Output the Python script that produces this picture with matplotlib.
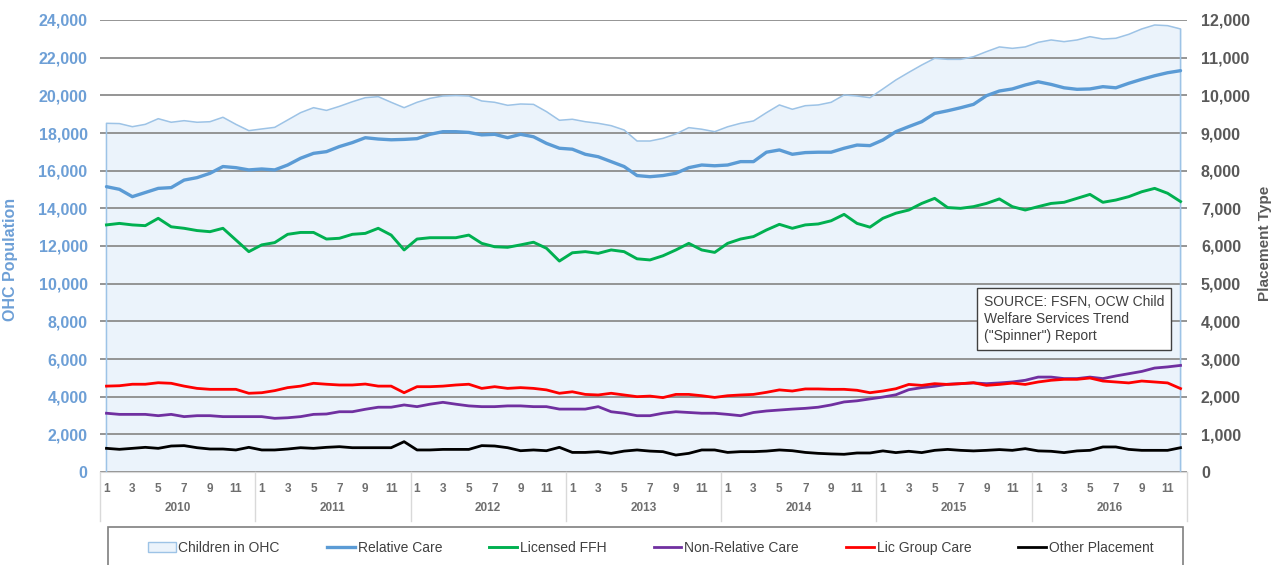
import numpy as np
import matplotlib
matplotlib.use('Agg')
import matplotlib.pyplot as plt
from matplotlib.patches import Rectangle, Patch
from matplotlib.lines import Line2D
from matplotlib.ticker import FuncFormatter

plt.rcParams['font.family'] = ['Liberation Sans', 'DejaVu Sans']

years = ['2010', '2011', '2012', '2013', '2014', '2015', '2016']
months = list(range(1, 13))

# Children in OHC (left axis)
ohc = [18515, 18500, 18335, 18460, 18760, 18570, 18655, 18570, 18600, 18835, 18460, 18125,
       18215, 18300, 18690, 19080, 19345, 19200, 19415, 19660, 19875, 19930, 19630, 19345,
       19630, 19840, 19965, 19990, 19965, 19700, 19630, 19470, 19540, 19520, 19135, 18675,
       18730, 18600, 18515, 18390, 18160, 17575, 17575, 17715, 17950, 18285, 18200, 18070,
       18330, 18515, 18640, 19080, 19490, 19260, 19450, 19490, 19630, 20020, 19965, 19875,
       20340, 20815, 21220, 21610, 21965, 21910, 21910, 22050, 22320, 22570, 22495, 22570,
       22815, 22940, 22850, 22940, 23115, 22990, 23030, 23240, 23525, 23735, 23700, 23525]

# placement types (right axis)
relative = [7575, 7505, 7310, 7420, 7530, 7550, 7750, 7815, 7930, 8110, 8080, 8020,
            8045, 8020, 8150, 8330, 8460, 8505, 8640, 8745, 8875, 8840, 8820, 8830,
            8850, 8965, 9035, 9035, 9015, 8950, 8965, 8875, 8965, 8900, 8725, 8595,
            8570, 8435, 8370, 8240, 8110, 7870, 7840, 7870, 7930, 8080, 8150, 8130,
            8150, 8240, 8240, 8490, 8550, 8435, 8480, 8490, 8490, 8595, 8680, 8665,
            8815, 9035, 9170, 9300, 9520, 9590, 9670, 9760, 9990, 10115, 10170, 10275,
            10360, 10290, 10200, 10160, 10170, 10230, 10200, 10320, 10425, 10520, 10600, 10655]
ffh = [6560, 6600, 6560, 6540, 6735, 6510, 6470, 6410, 6380, 6470, 6160, 5850,
       6030, 6090, 6310, 6360, 6360, 6185, 6205, 6310, 6335, 6470, 6290, 5895,
       6185, 6220, 6220, 6220, 6290, 6070, 5980, 5965, 6030, 6100, 5940, 5600,
       5820, 5850, 5805, 5895, 5850, 5660, 5630, 5740, 5895, 6070, 5895, 5830,
       6070, 6185, 6250, 6425, 6575, 6470, 6560, 6585, 6670, 6840, 6600, 6500,
       6735, 6870, 6955, 7130, 7265, 7020, 7000, 7045, 7130, 7250, 7045, 6955,
       7045, 7130, 7160, 7265, 7370, 7160, 7220, 7310, 7440, 7530, 7400, 7180]
nonrel = [1560, 1530, 1530, 1530, 1495, 1530, 1470, 1495, 1495, 1470, 1470, 1470,
          1470, 1425, 1440, 1470, 1530, 1540, 1600, 1600, 1665, 1720, 1720, 1780,
          1735, 1800, 1850, 1800, 1755, 1735, 1735, 1755, 1755, 1735, 1735, 1670,
          1670, 1670, 1735, 1600, 1560, 1495, 1495, 1560, 1600, 1580, 1560, 1560,
          1530, 1495, 1580, 1620, 1645, 1670, 1690, 1720, 1780, 1860, 1890, 1940,
          1990, 2050, 2185, 2240, 2275, 2330, 2345, 2365, 2345, 2365, 2390, 2435,
          2520, 2520, 2480, 2480, 2520, 2480, 2550, 2610, 2670, 2760, 2790, 2830]
group = [2280, 2290, 2330, 2330, 2370, 2355, 2280, 2220, 2195, 2195, 2195, 2090,
         2105, 2160, 2240, 2280, 2355, 2330, 2310, 2310, 2335, 2280, 2280, 2105,
         2265, 2265, 2280, 2310, 2330, 2220, 2265, 2220, 2240, 2220, 2180, 2090,
         2130, 2060, 2045, 2090, 2045, 2000, 2015, 1975, 2060, 2060, 2025, 1980,
         2025, 2045, 2060, 2115, 2180, 2150, 2205, 2205, 2195, 2195, 2170, 2105,
         2150, 2210, 2325, 2300, 2345, 2325, 2345, 2370, 2300, 2325, 2360, 2325,
         2390, 2435, 2460, 2460, 2495, 2415, 2390, 2365, 2415, 2390, 2365, 2215]
other = [628, 602, 628, 655, 628, 690, 700, 645, 610, 610, 585, 655,
         585, 585, 610, 645, 628, 655, 672, 645, 645, 645, 645, 805,
         585, 585, 600, 600, 600, 700, 690, 645, 565, 585, 565, 655,
         520, 520, 540, 495, 555, 585, 555, 540, 450, 495, 585, 585,
         520, 540, 540, 555, 585, 565, 520, 495, 480, 470, 505, 505,
         560, 515, 550, 515, 575, 600, 575, 560, 575, 595, 575, 620,
         560, 550, 515, 560, 575, 665, 665, 600, 575, 575, 575, 645]

x = np.arange(len(ohc))

fig = plt.figure(figsize=(12.76, 5.65), dpi=100)
ax = fig.add_axes([100/1276, 93/565, 1087/1276, 452/565])
ax2 = ax.twinx()

blue_lbl = '#6d9fd6'
gray_lbl = '#595959'

ax.fill_between(x, 0, ohc, color='#ebf3fb', zorder=1)
ax.plot(np.r_[0, x, x[-1]], np.r_[0, ohc, 0], color='#9dc3e6', lw=1.1, zorder=3)

ax2.plot(x, relative, color='#5b9bd5', lw=2.4, solid_capstyle='round')
ax2.plot(x, ffh, color='#00b050', lw=2.1)
ax2.plot(x, nonrel, color='#7030a0', lw=2.0)
ax2.plot(x, group, color='#ff0000', lw=2.0)
ax2.plot(x, other, color='#000000', lw=2.0)

ax.set_xlim(-0.5, len(x) - 0.5)
ax.set_ylim(0, 24000)
ax2.set_ylim(0, 12000)
ax.set_yticks(np.arange(0, 24001, 2000))
ax2.set_yticks(np.arange(0, 12001, 1000))
fmt = FuncFormatter(lambda v, _: '{:,.0f}'.format(v))
ax.yaxis.set_major_formatter(fmt)
ax2.yaxis.set_major_formatter(fmt)
ax.set_axisbelow('line')
ax.yaxis.grid(True, color='#8c8c8c', lw=1.3)

for a in (ax, ax2):
    for s in a.spines.values():
        s.set_visible(False)
ax.spines['bottom'].set_visible(True)
ax.spines['bottom'].set_color('#d9d9d9')

ax.tick_params(axis='y', length=0, pad=9, labelsize=11.5, labelcolor=blue_lbl)
ax2.tick_params(axis='y', length=0, pad=10, labelsize=11.5, labelcolor=gray_lbl)
for t in ax.get_yticklabels() + ax2.get_yticklabels():
    t.set_fontweight('bold')

# month ticks
odd = [i for i in x if months[i % 12] % 2 == 1]
ax.set_xticks(odd)
ax.set_xticklabels([str(months[i % 12]) for i in odd], fontsize=8.5,
                   fontweight='bold', color='#6f6f6f')
ax.tick_params(axis='x', length=0, pad=8)

trans = ax.get_xaxis_transform()
for k, yr in enumerate(years):
    ax.text(k * 12 + 5.5, -0.08, yr, transform=trans, ha='center', va='center',
            fontsize=8.5, fontweight='bold', color='#6f6f6f')
for k in range(len(years) + 1):
    ax.add_line(Line2D([k * 12 - 0.5, k * 12 - 0.5], [0, -0.108], transform=trans,
                       color='#d9d9d9', lw=1, clip_on=False))

ax.set_ylabel('OHC Population', color=blue_lbl, fontsize=11.5, fontweight='bold')
ax.yaxis.set_label_coords(-0.0754, 0.47)
ax2.set_ylabel('Placement Type', color=gray_lbl, fontsize=11, fontweight='bold')
ax2.yaxis.set_label_coords(1.0655, 0.505)

# source box
ax2.text(0.813, 0.392,
         'SOURCE: FSFN, OCW Child\nWelfare Services Trend\n("Spinner") Report',
         transform=ax.transAxes, fontsize=10, color='#404040', va='top', ha='left',
         linespacing=1.3,
         bbox=dict(boxstyle='square,pad=0.5', fc='white', ec='#404040', lw=1))

# legend
fig.patches.append(Rectangle((108/1276, -0.02), 1075/1276, 0.02 + 38/565,
                             transform=fig.transFigure, fc='white', ec='#7f7f7f', lw=1.2))
handles = [Patch(fc='#ebf3fb', ec='#9dc3e6', lw=1),
           Line2D([], [], color='#5b9bd5', lw=2.4),
           Line2D([], [], color='#00b050', lw=2.1),
           Line2D([], [], color='#7030a0', lw=2.0),
           Line2D([], [], color='#ff0000', lw=2.0),
           Line2D([], [], color='#000000', lw=2.0)]
labels = ['Children in OHC', 'Relative Care', 'Licensed FFH', 'Non-Relative Care',
          'Lic Group Care', 'Other Placement']
fig.legend(handles, labels, loc='center', bbox_to_anchor=(0.51, 1 - 548/565),
           ncol=6, frameon=False, fontsize=10, handlelength=2.0, handletextpad=0.2,
           columnspacing=3.4, labelcolor='#404040')

fig.savefig('out.png', dpi=100)
